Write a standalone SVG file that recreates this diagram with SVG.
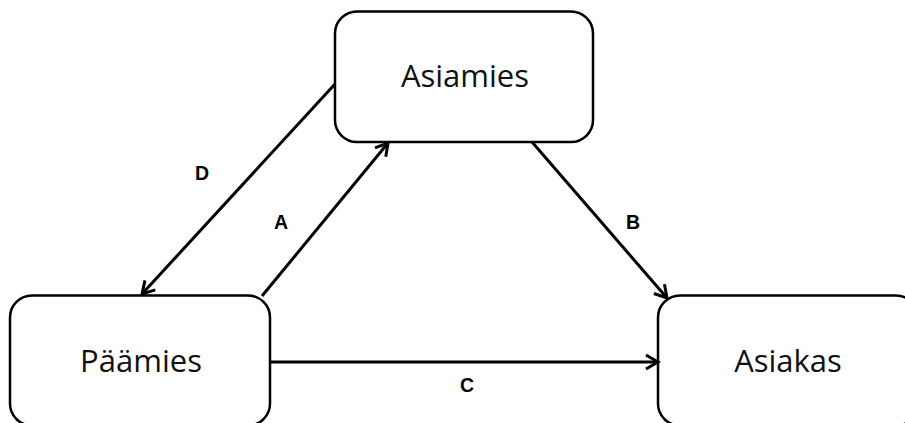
<svg xmlns="http://www.w3.org/2000/svg" width="905" height="423" viewBox="0 0 905 423">
  <style>
    .box { fill: #ffffff; stroke: #000000; stroke-width: 2.5; }
    .name { font-family: "Open Sans", "Noto Sans", sans-serif; font-size: 31px; fill: #111111; text-anchor: middle; }
    .edge { fill: none; stroke: #000000; stroke-width: 3; marker-end: url(#arrow); }
    .tag { font-family: "Liberation Sans", Arial, sans-serif; font-weight: bold; font-size: 19.5px; fill: #000000; text-anchor: middle; }
  </style>
  <defs>
    <marker id="arrow" markerUnits="userSpaceOnUse" markerWidth="20" markerHeight="20" refX="14" refY="10" orient="auto">
      <path d="M2,3 L14,10 L2,17" fill="none" stroke="#000000" stroke-width="3" stroke-linejoin="miter"/>
    </marker>
  </defs>
  <rect width="905" height="423" fill="#ffffff"/>

  <g id="asiamies">
    <rect class="box" x="335" y="11.5" width="258" height="130.5" rx="22" ry="22"/>
    <text class="name" x="465" y="87">Asiamies</text>
  </g>

  <g id="paamies">
    <rect class="box" x="10" y="295.5" width="260" height="130" rx="22" ry="22"/>
    <text class="name" x="141" y="372">Päämies</text>
  </g>

  <g id="asiakas">
    <rect class="box" x="658" y="295.5" width="260" height="130" rx="22" ry="22"/>
    <text class="name" x="788" y="372">Asiakas</text>
  </g>

  <g id="connectors">
    <line class="edge" x1="335" y1="84" x2="142" y2="294"/>
    <line class="edge" x1="262" y1="296" x2="388" y2="143"/>
    <line class="edge" x1="532" y1="142" x2="667" y2="298"/>
    <line class="edge" x1="270" y1="362" x2="658" y2="362"/>
    <text class="tag" x="202" y="180">D</text>
    <text class="tag" x="281" y="229">A</text>
    <text class="tag" x="633" y="229">B</text>
    <text class="tag" x="467" y="392">C</text>
  </g>
</svg>
